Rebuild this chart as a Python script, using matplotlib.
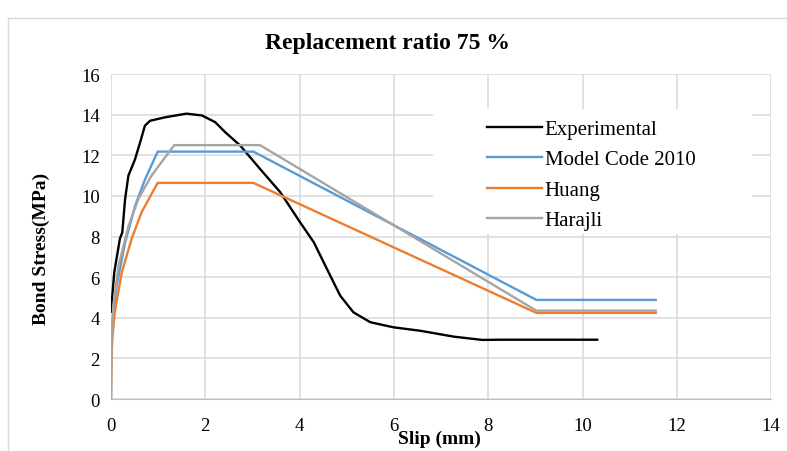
import numpy as np
import matplotlib.pyplot as plt
from matplotlib.patches import Rectangle

plt.rcParams['font.family'] = ['Liberation Serif', 'DejaVu Serif']

# Experimental curve
exp_x = [0.0, 0.07, 0.19, 0.24, 0.3, 0.37, 0.51, 0.62, 0.72, 0.83, 1.15, 1.6, 1.93,
         2.21, 2.42, 2.74, 3.16, 3.59, 4.01, 4.3, 4.58, 4.86, 5.14, 5.5, 5.99, 6.56,
         7.27, 7.87, 8.26, 10.31]
exp_y = [4.3, 6.24, 7.9, 8.2, 9.85, 11.0, 11.8, 12.65, 13.46, 13.7, 13.87, 14.05, 13.96,
         13.63, 13.14, 12.48, 11.33, 10.18, 8.7, 7.72, 6.4, 5.09, 4.27, 3.78, 3.53, 3.36,
         3.07, 2.91, 2.92, 2.92]

# Model Code 2010
mc_x = [0.0, 0.01, 0.04, 0.12, 0.3, 0.51, 0.72, 0.99, 3.02, 9.02, 11.55]
mc_y = [0.0, 2.6, 4.0, 5.58, 7.7, 9.5, 10.8, 12.18, 12.18, 4.88, 4.88]

# Huang
hu_x = [0.0, 0.01, 0.03, 0.08, 0.23, 0.44, 0.65, 0.99, 3.02, 9.02, 11.55]
hu_y = [0.0, 2.0, 3.0, 4.27, 6.24, 7.9, 9.2, 10.64, 10.64, 4.24, 4.24]

# Harajli
ha_x = [0.0, 0.01, 0.05, 0.16, 0.37, 0.58, 0.86, 1.34, 3.16, 9.02, 11.55]
ha_y = [0.0, 2.8, 4.6, 6.57, 8.5, 9.85, 11.0, 12.5, 12.5, 4.35, 4.35]

x_ticks = np.arange(0, 15, 2)
y_ticks = np.arange(0, 17, 2)

fig = plt.figure(figsize=(7.87, 4.52), dpi=100)
ax = fig.add_axes([0.141, 0.115, 0.839, 0.719])

ax.plot(exp_x, exp_y, color='black', lw=1.7, label='Experimental')
ax.plot(mc_x, mc_y, color='#5B9BD5', lw=1.7, label='Model Code 2010')
ax.plot(hu_x, hu_y, color='#ED7D31', lw=1.7, label='Huang')
ax.plot(ha_x, ha_y, color='#A5A5A5', lw=1.7, label='Harajli')

ax.set_xlim(0, 14)
ax.set_ylim(0, 16)
ax.set_xticks(x_ticks)
ax.set_yticks(y_ticks)
ax.grid(True, color='#D9D9D9', lw=1.1)
ax.set_axisbelow(True)
ax.tick_params(axis='x', length=0, labelsize=13.5, pad=13)
ax.tick_params(axis='y', length=0, labelsize=13.5, pad=8)
for s in ['top', 'right', 'left']:
    ax.spines[s].set_visible(False)
ax.spines['bottom'].set_color('#BFBFBF')

ax.set_xlabel('Slip (mm)', fontsize=14, fontweight='bold')
ax.xaxis.set_label_coords(0.497, -0.095)
ax.set_ylabel('Bond Stress(MPa)', fontsize=14, fontweight='bold')
ax.yaxis.set_label_coords(-0.092, 0.465)

# white legend area as in the spreadsheet chart
ax.add_patch(Rectangle((0.488, 0.508), 0.483, 0.384, transform=ax.transAxes,
                       facecolor='white', edgecolor='none', zorder=1.5))

leg = ax.legend(loc='upper left', bbox_to_anchor=(0.548, 0.905), fontsize=15,
                frameon=False, handlelength=2.6,
                labelspacing=0.52, borderpad=0.2, handletextpad=0.15)

fig.text(0.492, 0.903, 'Replacement ratio 75 %', ha='center', va='center',
         fontsize=17, fontweight='bold')

fig.patches.append(Rectangle((8 / 787, -0.1), 1.2, 1.1 - 19 / 452,
                             transform=fig.transFigure, fill=False,
                             edgecolor='#D9D9D9', lw=1.0))

fig.savefig('out.png', dpi=100)
